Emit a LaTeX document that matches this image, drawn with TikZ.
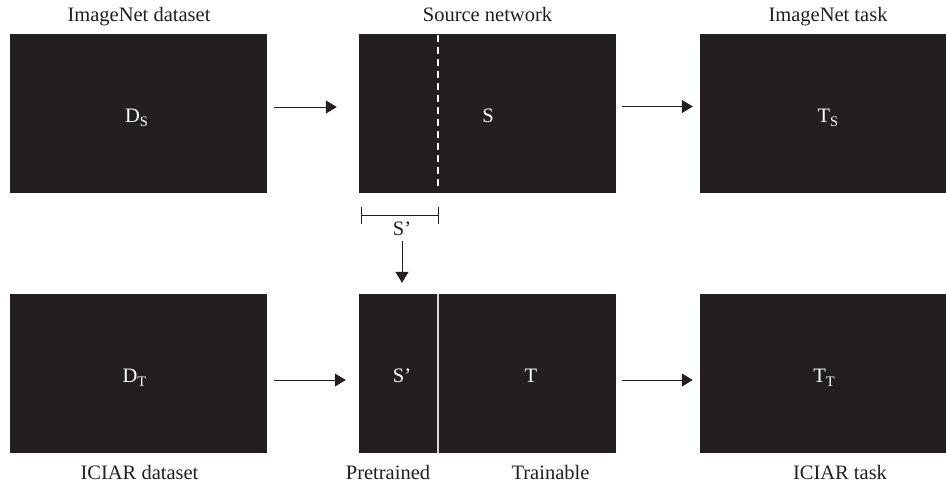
\documentclass[tikz,border=0pt]{standalone}
\usepackage{fontspec}
\setmainfont{Liberation Serif}
\usetikzlibrary{arrows.meta}
\definecolor{boxfill}{HTML}{231F20}
\definecolor{ink}{HTML}{231F20}
\newcommand\lowsub[1]{\raisebox{-0.45ex}{\fontsize{14.5}{15}\selectfont #1}}
\begin{document}
\begin{tikzpicture}[x=1pt,y=-1pt,
  blk/.style={fill=boxfill, draw=none, minimum width=257pt, minimum height=159pt, inner sep=0pt},
  intxt/.style={text=white, font=\fontsize{20.5}{23}\selectfont, inner sep=0pt, anchor=base},
  lbl/.style={text=ink, font=\fontsize{20.5}{23}\selectfont, inner sep=0pt, anchor=base},
  conn/.style={draw=ink, line width=1pt, -{Triangle[length=11pt,width=13pt]}}
]
\useasboundingbox (0,0) rectangle (946,483);
% boxes
\node[blk] (ds)  at (138.5,113.5) {};
\node[blk] (src) at (487.5,113.5) {};
\node[blk] (ts)  at (828.5,113.5) {};
\node[blk] (dt)  at (138.5,373.5) {};
\node[blk] (tgt) at (487.5,373.5) {};
\node[blk] (tt)  at (828.5,373.5) {};
% separators inside the network boxes
\draw[white, line width=1.2pt, dash pattern=on 7pt off 5pt] (438,35) -- (438,190);
\draw[white!85!black, line width=1.5pt] (438,294) -- (438,453);
% texts in the boxes
\node[intxt] (dsT)  at (136.5,122) {D\lowsub{S}};
\node[intxt] (srcT) at (488,122) {S};
\node[intxt] (tsT)  at (828,122) {T\lowsub{S}};
\node[intxt] (dtT)  at (134.5,382) {D\lowsub{T}};
\node[intxt] (spT)  at (402,382) {S’};
\node[intxt] (tT)   at (531,382) {T};
\node[intxt] (ttT)  at (824,382) {T\lowsub{T}};
% labels
\node[lbl] (l1) at (139,21) {ImageNet dataset};
\node[lbl] (l2) at (487.5,21) {Source network};
\node[lbl] (l3) at (828,21) {ImageNet task};
\node[lbl] (l4) at (139.5,479) {ICIAR dataset};
\node[lbl] (l5) at (388,479) {Pretrained};
\node[lbl] (l6) at (550.5,479) {Trainable};
\node[lbl] (l7) at (840,479) {ICIAR task};
% bracket S'
\draw[ink, line width=1pt] (361,207) -- (361,224) (361,215.5) -- (438,215.5) (438,207) -- (438,224);
\node[lbl] (spl) at (402,235) {S’};
% connectors
\draw[conn, shorten <=7pt, shorten >=22pt] ([yshift=6.5pt]ds.east) -- ([yshift=6.5pt]src.west);
\draw[conn, shorten <=6pt, shorten >=7pt] ([yshift=7pt]src.east) -- ([yshift=7pt]ts.west);
\draw[conn, shorten <=7pt, shorten >=13pt] ([yshift=-6.5pt]dt.east) -- ([yshift=-6.5pt]tgt.west);
\draw[conn, shorten <=6pt, shorten >=7pt] ([yshift=-6.5pt]tgt.east) -- ([yshift=-6.5pt]tt.west);
\draw[conn, shorten <=6pt, shorten >=11pt] (spl.south) -- (spl.south |- tgt.north);
\end{tikzpicture}
\end{document}
